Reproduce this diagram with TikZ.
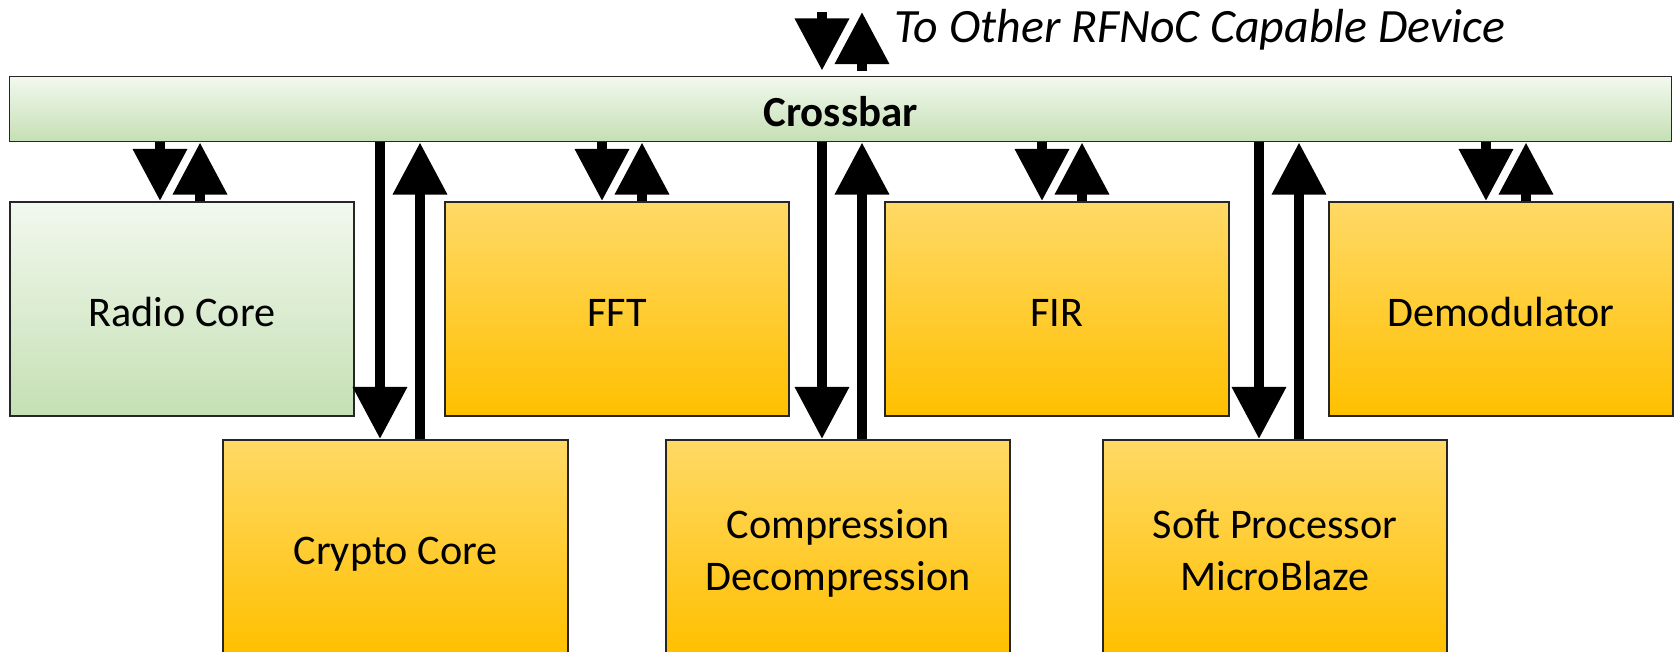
\documentclass[tikz,border=0pt]{standalone}
\usepackage{fontspec}
\setmainfont{Carlito}
\usetikzlibrary{arrows.meta}

\definecolor{barTop}{RGB}{242,248,238}
\definecolor{barBottom}{RGB}{197,224,180}
\definecolor{coreTop}{RGB}{255,217,102}
\definecolor{coreBottom}{RGB}{255,192,0}

\begin{document}
\begin{tikzpicture}[
    x=0.01cm, y=-0.01cm,
    block/.style={rectangle, draw=black!85, line width=0.55pt, minimum width=3.44cm, minimum height=2.14cm,
        align=center, inner sep=2pt, text height=10pt, text depth=0pt, font=\fontsize{12}{14.7}\selectfont},
    twoline/.style={text height=24.7pt, text depth=0pt},
    greenblock/.style={block, top color=barTop, bottom color=barBottom},
    yellowblock/.style={block, top color=coreTop, bottom color=coreBottom},
    link/.style={-{Triangle[length=0.52cm, width=0.52cm]}, line width=0.1cm}
]
\clip (0,0) rectangle (1675,651);

% Crossbar across the top
\node[greenblock, minimum width=16.61cm, minimum height=0.65cm, font=\fontsize{12.2}{14}\selectfont\bfseries]
    (crossbar) at (840.5,109) {Crossbar};

% Upper row of blocks
\node[greenblock]  (radio) at (182,309)  {Radio Core};
\node[yellowblock] (fft)   at (617,309)  {FFT};
\node[yellowblock] (fir)   at (1057,309) {FIR};
\node[yellowblock] (demod) at (1501,309) {Demodulator};

% Lower row of blocks
\node[yellowblock] (crypto)   at (395.5,547) {Crypto Core};
\node[yellowblock, twoline] (compress) at (838,547)  {Compression\\Decompression};
\node[yellowblock, twoline] (soft)     at (1275,547) {Soft Processor\\MicroBlaze};

% Link to the outside
\coordinate (ext-dn) at (822,12);
\coordinate (ext-up) at (862,12);
\draw[link, shorten >=0.05cm] (ext-dn) -- (ext-dn |- crossbar.north);
\draw[link, shorten <=0.05cm] (ext-up |- crossbar.north) -- (ext-up);
\node[anchor=base west, inner sep=0pt, font=\fontsize{13.6}{16}\selectfont\itshape]
    (ext-label) at (894,42) {To Other RFNoC Capable Device};

% Crossbar to blocks and back
\draw[link] ([xshift=-0.22cm]radio.north |- crossbar.south) -- ([xshift=-0.22cm]radio.north);
\draw[link] ([xshift=0.18cm]radio.north) -- ([xshift=0.18cm]radio.north |- crossbar.south);
\draw[link] ([xshift=-0.155cm]crypto.north |- crossbar.south) -- ([xshift=-0.155cm]crypto.north);
\draw[link] ([xshift=0.245cm]crypto.north) -- ([xshift=0.245cm]crypto.north |- crossbar.south);
\draw[link] ([xshift=-0.15cm]fft.north |- crossbar.south) -- ([xshift=-0.15cm]fft.north);
\draw[link] ([xshift=0.25cm]fft.north) -- ([xshift=0.25cm]fft.north |- crossbar.south);
\draw[link] ([xshift=-0.16cm]compress.north |- crossbar.south) -- ([xshift=-0.16cm]compress.north);
\draw[link] ([xshift=0.24cm]compress.north) -- ([xshift=0.24cm]compress.north |- crossbar.south);
\draw[link] ([xshift=-0.15cm]fir.north |- crossbar.south) -- ([xshift=-0.15cm]fir.north);
\draw[link] ([xshift=0.25cm]fir.north) -- ([xshift=0.25cm]fir.north |- crossbar.south);
\draw[link] ([xshift=-0.16cm]soft.north |- crossbar.south) -- ([xshift=-0.16cm]soft.north);
\draw[link] ([xshift=0.24cm]soft.north) -- ([xshift=0.24cm]soft.north |- crossbar.south);
\draw[link] ([xshift=-0.15cm]demod.north |- crossbar.south) -- ([xshift=-0.15cm]demod.north);
\draw[link] ([xshift=0.25cm]demod.north) -- ([xshift=0.25cm]demod.north |- crossbar.south);

\end{tikzpicture}
\end{document}
